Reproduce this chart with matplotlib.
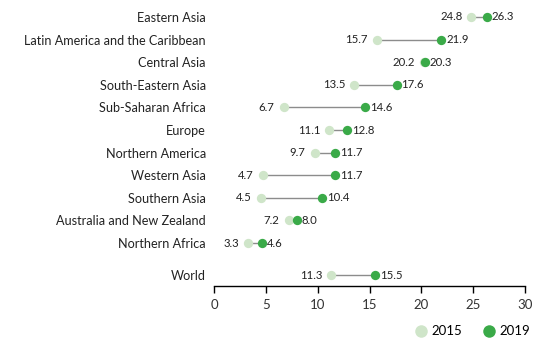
import matplotlib
matplotlib.use("Agg")
import matplotlib.pyplot as plt
from matplotlib.lines import Line2D

plt.rcParams['font.family'] = ['Lato', 'DejaVu Sans']

regions = ["Eastern Asia", "Latin America and the Caribbean", "Central Asia",
           "South-Eastern Asia", "Sub-Saharan Africa", "Europe", "Northern America",
           "Western Asia", "Southern Asia", "Australia and New Zealand",
           "Northern Africa", "World"]
v2015 = [24.8, 15.7, 20.2, 13.5, 6.7, 11.1, 9.7, 4.7, 4.5, 7.2, 3.3, 11.3]
v2019 = [26.3, 21.9, 20.3, 17.6, 14.6, 12.8, 11.7, 11.7, 10.4, 8.0, 4.6, 15.5]
ypos = [0, 1, 2, 3, 4, 5, 6, 7, 8, 9, 10, 11.42]

c15 = "#cfe5c9"
c19 = "#3aaa48"

fig = plt.figure(figsize=(5.42, 3.51), dpi=100)
ax = fig.add_axes([0.395, 0.185, 0.574, 0.815])

for y, a, b in zip(ypos, v2015, v2019):
    ax.plot([a, b], [y, y], color="#8c8c8c", lw=1, zorder=1)
ax.scatter(v2015, ypos, s=45, color=c15, zorder=2, linewidths=0)
ax.scatter(v2019, ypos, s=45, color=c19, zorder=3, linewidths=0)

for y, a, b in zip(ypos, v2015, v2019):
    ax.annotate(f"{a:.1f}", (a, y), xytext=(-6.5, 0), textcoords="offset points",
                ha="right", va="center", fontsize=8.2, color="#222222")
    ax.annotate(f"{b:.1f}", (b, y), xytext=(3.5, 0), textcoords="offset points",
                ha="left", va="center", fontsize=8.2, color="#222222")

ax.set_xlim(0, 30)
ax.set_ylim(11.9, -0.75)
ax.set_xticks([0, 5, 10, 15, 20, 25, 30])
ax.set_yticks(ypos)
ax.set_yticklabels(regions, fontsize=9.1, color="#222222")
ax.tick_params(axis="y", length=0, pad=6)
ax.tick_params(axis="x", length=5, width=1, colors="black", labelsize=9.5,
               labelcolor="#333333", pad=4)
for s in ["top", "right", "left"]:
    ax.spines[s].set_visible(False)
ax.spines["bottom"].set_linewidth(1)

handles = [Line2D([], [], marker="o", ls="none", markersize=9, color=c15, mec="none"),
           Line2D([], [], marker="o", ls="none", markersize=9, color=c19, mec="none")]
fig.legend(handles, ["2015", "2019"], loc="lower right", bbox_to_anchor=(1.0, 0.005),
           ncol=2, frameon=False, fontsize=9.5, handletextpad=0.2, columnspacing=1.4,
           handlelength=1.2)

fig.savefig("out.png", dpi=100)
